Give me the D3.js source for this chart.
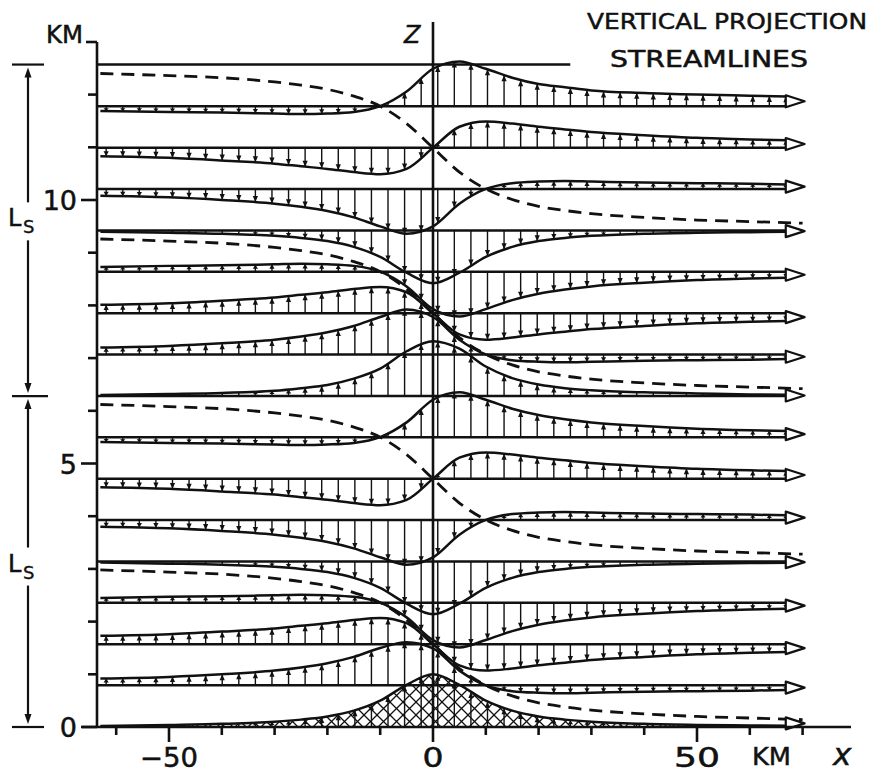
<!DOCTYPE html>
<html>
<head>
<meta charset="utf-8">
<script src="https://cdn.jsdelivr.net/npm/d3@7"></script>
<style>
  body { margin: 0; background: #fff; }
  svg { display: block; }
  text { font-family: "DejaVu Sans", sans-serif; fill: #111; }
</style>
</head>
<body>
<svg id="s" width="873" height="776"></svg>
<script>
// horizontal positions (km) where the streamline displacements were read
const xSamples = [-63, -50, -40, -30, -25, -20, -15, -10, -5, 0, 5, 10, 15, 20, 25, 30, 40, 50, 60, 70];

// undisturbed height of each streamline (km), ground first
const baseZ = [0, 0.79, 1.57, 2.36, 3.14, 3.93, 4.71, 5.50, 6.28, 7.07, 7.85, 8.64, 9.42, 10.21, 10.99, 11.78];

// vertical displacement of each streamline (km) at xSamples
const disp = [
  [0.02, 0.04, 0.06, 0.10, 0.14, 0.20, 0.31, 0.50, 0.80, 1.00, 0.80, 0.50, 0.31, 0.20, 0.14, 0.10, 0.06, 0.04, 0.03, 0.02],
  [0.13, 0.16, 0.21, 0.28, 0.34, 0.42, 0.54, 0.71, 0.82, 0.70, 0.28, 0.00, -0.11, -0.14, -0.15, -0.14, -0.12, -0.11, -0.10, -0.08],
  [0.16, 0.19, 0.24, 0.30, 0.35, 0.40, 0.46, 0.50, 0.40, 0.00, -0.40, -0.50, -0.46, -0.40, -0.35, -0.30, -0.24, -0.19, -0.16, -0.14],
  [0.09, 0.11, 0.12, 0.14, 0.15, 0.14, 0.11, 0.00, -0.28, -0.71, -0.85, -0.71, -0.54, -0.42, -0.34, -0.28, -0.21, -0.16, -0.13, -0.11],
  [-0.02, -0.04, -0.06, -0.10, -0.14, -0.20, -0.31, -0.50, -0.80, -1.00, -0.80, -0.50, -0.31, -0.20, -0.14, -0.10, -0.06, -0.04, -0.03, -0.02],
  [-0.13, -0.16, -0.21, -0.28, -0.34, -0.42, -0.54, -0.71, -0.85, -0.71, -0.28, 0.00, 0.11, 0.14, 0.15, 0.14, 0.12, 0.11, 0.10, 0.08],
  [-0.16, -0.19, -0.24, -0.30, -0.35, -0.40, -0.46, -0.50, -0.40, 0.00, 0.40, 0.50, 0.46, 0.40, 0.35, 0.30, 0.24, 0.19, 0.16, 0.14],
  [-0.09, -0.11, -0.12, -0.14, -0.15, -0.14, -0.11, 0.00, 0.28, 0.71, 0.85, 0.71, 0.54, 0.42, 0.34, 0.28, 0.21, 0.16, 0.13, 0.11],
  [0.02, 0.04, 0.06, 0.10, 0.15, 0.21, 0.33, 0.52, 0.85, 1.04, 0.90, 0.56, 0.34, 0.22, 0.15, 0.11, 0.07, 0.05, 0.03, 0.02],
  [0.13, 0.16, 0.21, 0.28, 0.34, 0.42, 0.54, 0.71, 0.85, 0.71, 0.28, 0.00, -0.11, -0.14, -0.15, -0.14, -0.12, -0.11, -0.10, -0.08],
  [0.16, 0.19, 0.24, 0.30, 0.35, 0.40, 0.46, 0.50, 0.40, 0.00, -0.40, -0.50, -0.46, -0.40, -0.35, -0.30, -0.24, -0.19, -0.16, -0.14],
  [0.09, 0.11, 0.12, 0.14, 0.15, 0.14, 0.11, 0.00, -0.28, -0.71, -0.85, -0.71, -0.54, -0.42, -0.34, -0.28, -0.21, -0.16, -0.13, -0.11],
  [-0.02, -0.04, -0.06, -0.10, -0.14, -0.20, -0.31, -0.50, -0.80, -1.00, -0.80, -0.50, -0.31, -0.20, -0.14, -0.10, -0.06, -0.04, -0.03, -0.02],
  [-0.13, -0.16, -0.21, -0.28, -0.34, -0.42, -0.54, -0.71, -0.85, -0.71, -0.28, 0.00, 0.11, 0.14, 0.15, 0.14, 0.12, 0.11, 0.10, 0.08],
  [-0.16, -0.19, -0.24, -0.30, -0.35, -0.40, -0.46, -0.50, -0.40, 0.00, 0.40, 0.50, 0.46, 0.40, 0.35, 0.30, 0.24, 0.19, 0.16, 0.14],
  [-0.09, -0.11, -0.12, -0.14, -0.15, -0.14, -0.11, 0.00, 0.28, 0.71, 0.85, 0.71, 0.54, 0.42, 0.36, 0.30, 0.25, 0.22, 0.20, 0.18]
];

// dashed lines of zero displacement: height (km) at xSamples
const phaseLines = [
  [2.98, 2.94, 2.90, 2.82, 2.76, 2.68, 2.55, 2.36, 2.03, 1.57, 1.11, 0.79, 0.59, 0.46, 0.38, 0.32, 0.25, 0.20, 0.17, 0.14],
  [6.12, 6.08, 6.04, 5.96, 5.90, 5.82, 5.69, 5.50, 5.17, 4.71, 4.25, 3.93, 3.73, 3.60, 3.52, 3.46, 3.39, 3.34, 3.31, 3.28],
  [9.26, 9.22, 9.18, 9.10, 9.04, 8.96, 8.83, 8.64, 8.31, 7.85, 7.39, 7.07, 6.87, 6.74, 6.66, 6.60, 6.53, 6.48, 6.45, 6.42],
  [12.40, 12.36, 12.32, 12.24, 12.18, 12.10, 11.97, 11.78, 11.45, 10.99, 10.53, 10.21, 10.01, 9.88, 9.80, 9.74, 9.67, 9.62, 9.59, 9.56]
];

const topLineZ = 12.57;
const lsMarks = [0, 6.28, 12.57];
const yTicks = d3.range(0, 13);
const yLabels = [0, 5, 10];
const xTicks = d3.range(-60, 80, 10);
const xLabels = [-50, 0, 50];

const ink = '#111';
const svg = d3.select('#s');
const x = d3.scaleLinear().domain([0, 50]).range([433, 697]);
const y = d3.scaleLinear().domain([0, 10]).range([727, 200]);
const xLeft = x.invert(97);
const xEnd = 67;

const defs = svg.append('defs');
defs.append('clipPath').attr('id', 'plotClip')
  .append('rect').attr('x', x(xLeft)).attr('y', 0).attr('width', x(xEnd) - x(xLeft)).attr('height', 776);
const pat = defs.append('pattern').attr('id', 'hatch')
  .attr('patternUnits', 'userSpaceOnUse').attr('width', 13).attr('height', 13);
pat.append('path').attr('d', 'M0,0L13,13M0,13L13,0')
  .attr('stroke', ink).attr('stroke-width', 1.3).attr('fill', 'none');

const line = d3.line().curve(d3.curveMonotoneX);

// sample a drawn path so arrows can be hung on it
function sampler(node) {
  const L = node.getTotalLength();
  const pts = d3.range(0, L, 1).map(l => node.getPointAtLength(l));
  pts.push(node.getPointAtLength(L));
  const bis = d3.bisector(p => p.x).left;
  return px => pts[Math.min(pts.length - 1, bis(pts, px))].y;
}

function headPath(px, tipY, dir, s, w) {
  return `M${px},${tipY}L${px - w},${tipY - dir * s}L${px + w},${tipY - dir * s}Z`;
}

// mountain hatch
const ground = xSamples.map((v, j) => [x(v), y(baseZ[0] + disp[0][j])]);
const area = d3.area().curve(d3.curveMonotoneX).x(d => d[0]).y0(y(0)).y1(d => d[1]);
svg.append('path').attr('d', area(ground)).attr('fill', 'url(#hatch)')
  .attr('clip-path', 'url(#plotClip)');

const lines = svg.append('g').attr('clip-path', 'url(#plotClip)');
const arrows = svg.append('g');
const arrowXs = d3.range(-61.9, 67, 3.14);
const ends = [];

baseZ.forEach((z0, i) => {
  const pts = xSamples.map((v, j) => [x(v), y(z0 + disp[i][j])]);
  if (i > 0) {
    lines.append('line')
      .attr('x1', x(xLeft)).attr('x2', x(xEnd) + 2)
      .attr('y1', y(z0)).attr('y2', y(z0))
      .attr('stroke', ink).attr('stroke-width', 2.5);
  }
  const p = lines.append('path').attr('d', line(pts))
    .attr('fill', 'none').attr('stroke', ink).attr('stroke-width', 2.5);
  const at = sampler(p.node());
  arrowXs.forEach(ax => {
    const px = x(ax);
    const yb = y(z0), yc = at(px);
    const len = yc - yb;
    if (Math.abs(len) < 2) return;
    const dir = len > 0 ? 1 : -1;
    arrows.append('line').attr('x1', px).attr('x2', px).attr('y1', yb).attr('y2', yc)
      .attr('stroke', ink).attr('stroke-width', 1.4);
    if (Math.abs(len) > 4) {
      const s = Math.min(6, Math.abs(len) * 0.6);
      arrows.append('path').attr('d', headPath(px, yc, dir, s, 2.6)).attr('fill', ink);
    }
  });
  ends.push(i === 0 ? (y(z0) + at(x(xEnd))) / 2 - 3 : (y(z0) + at(x(xEnd))) / 2);
});

// top line at two vertical wavelengths
svg.append('line').attr('x1', x(xLeft)).attr('x2', x(26))
  .attr('y1', y(topLineZ)).attr('y2', y(topLineZ))
  .attr('stroke', ink).attr('stroke-width', 2.5);

// dashed zero-displacement lines
phaseLines.forEach(row => {
  svg.append('path')
    .attr('d', line(xSamples.map((v, j) => [x(v), y(row[j])])))
    .attr('fill', 'none').attr('stroke', ink).attr('stroke-width', 2.8)
    .attr('stroke-dasharray', '13,8');
});

// right-hand streamline arrowheads
ends.forEach(ey => {
  const x0 = x(xEnd) - 1, x1 = x(70) + 2;
  svg.append('path').attr('d', `M${x0},${ey - 6}L${x1},${ey}L${x0},${ey + 6}Z`)
    .attr('fill', '#fff').attr('stroke', ink).attr('stroke-width', 2.2)
    .attr('stroke-linejoin', 'round');
});

// axes
const axes = svg.append('g').attr('stroke', ink).attr('stroke-width', 2.6).attr('fill', 'none');
axes.append('line').attr('x1', x(xLeft)).attr('x2', x(xLeft)).attr('y1', 42).attr('y2', y(0));
axes.append('line').attr('x1', x(xLeft) - 11).attr('x2', x(xLeft)).attr('y1', 42).attr('y2', 42);
axes.append('line').attr('x1', 82).attr('x2', 851).attr('y1', y(0)).attr('y2', y(0));
axes.append('line').attr('x1', x(0)).attr('x2', x(0)).attr('y1', 22).attr('y2', y(0));
yTicks.forEach(t => {
  const major = yLabels.includes(t);
  axes.append('line').attr('x1', x(xLeft) - (major ? 16 : 9)).attr('x2', x(xLeft))
    .attr('y1', y(t)).attr('y2', y(t));
});
xTicks.forEach(t => {
  const major = xLabels.includes(t);
  axes.append('line').attr('x1', x(t)).attr('x2', x(t))
    .attr('y1', y(0)).attr('y2', y(0) + (major ? 15 : 8));
});

// L_s markers
const lsG = svg.append('g').attr('stroke', ink).attr('stroke-width', 2.2);
const lsX = 28;
lsMarks.forEach((z, i) => {
  const w = i === 1 ? 20 : 16;
  lsG.append('line').attr('x1', lsX - 16).attr('x2', lsX + w).attr('y1', y(z)).attr('y2', y(z));
});
const lsLabelZ = [9.5, 2.95];
[[lsMarks[2], lsLabelZ[0], lsMarks[1]], [lsMarks[1], lsLabelZ[1], lsMarks[0]]].forEach(([zt, zl, zb]) => {
  const t = y(zt) + 3, b = y(zb) - 3;
  lsG.append('line').attr('x1', lsX).attr('x2', lsX).attr('y1', t + 6).attr('y2', y(zl) - 24);
  lsG.append('line').attr('x1', lsX).attr('x2', lsX).attr('y1', y(zl) + 14).attr('y2', b - 6);
  lsG.append('path').attr('d', headPath(lsX, t, -1, 10, 3.5)).attr('fill', ink).attr('stroke', 'none');
  lsG.append('path').attr('d', headPath(lsX, b, 1, 10, 3.5)).attr('fill', ink).attr('stroke', 'none');
  svg.append('text').attr('x', 8).attr('y', y(zl)).attr('font-size', 24)
    .attr('stroke', ink).attr('stroke-width', 0.5).text('L');
  svg.append('text').attr('x', 23).attr('y', y(zl) + 7).attr('font-size', 18)
    .attr('stroke', ink).attr('stroke-width', 0.4).text('S');
});

// labels
const lab = (t, px, py, size, opts = {}) => {
  const el = svg.append('text').attr('x', px).attr('y', py).attr('font-size', size)
    .attr('stroke', ink).attr('stroke-width', 0.5)
    .attr('text-anchor', opts.anchor || 'start').text(t);
  if (opts.len) el.attr('textLength', opts.len).attr('lengthAdjust', 'spacingAndGlyphs');
  if (opts.italic) el.attr('font-style', 'italic');
  return el;
};
yLabels.forEach(t => lab(String(t), x(xLeft) - 20, y(t) + 10, 27, { anchor: 'end' }));
xLabels.forEach(t => lab(t < 0 ? '\u2212' + Math.abs(t) : String(t), x(t), 767, 26,
  { anchor: 'middle', len: t < 0 ? 58 : (t > 0 ? 46 : 21) }));
lab('KM', 752, 765, 25, { len: 39 });
lab('x', 833, 765, 31, { italic: true });
lab('KM', 46, 43, 24, { len: 37 });
lab('Z', 404, 43, 24, { italic: true });
lab('VERTICAL PROJECTION', 587, 29, 22, { len: 280 });
lab('STREAMLINES', 610, 67, 23, { len: 198 });
</script>
</body>
</html>
